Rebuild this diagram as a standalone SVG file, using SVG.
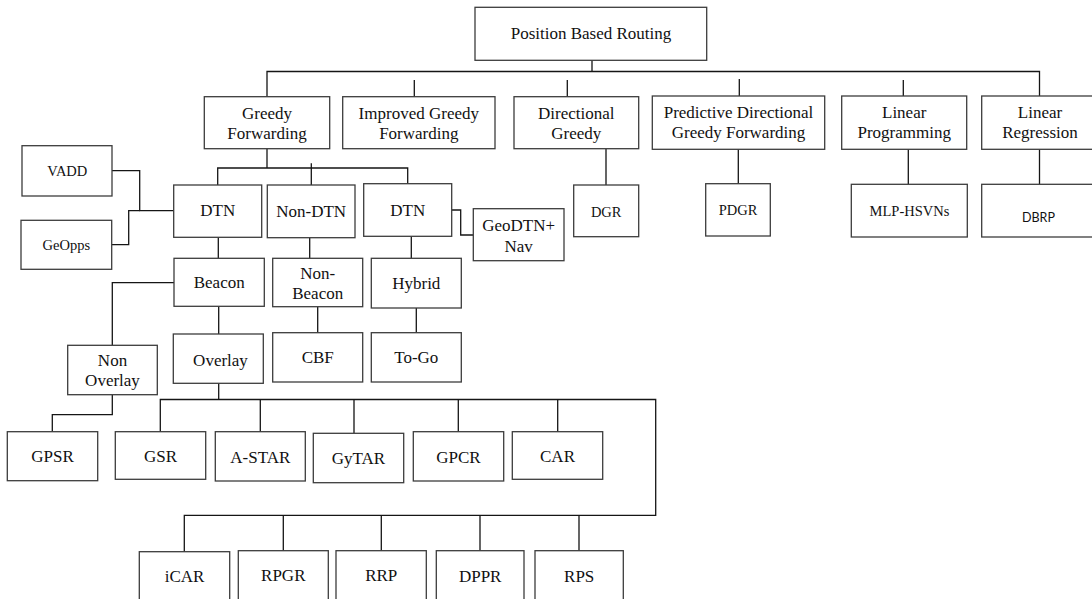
<svg xmlns="http://www.w3.org/2000/svg" width="1092" height="599" viewBox="0 0 1092 599">
  <style>
    .box { fill: #ffffff; stroke: #3c3c3c; stroke-width: 1.3; }
    .wire { fill: none; stroke: #151515; stroke-width: 1.3; }
    .lbl { font-family: "Liberation Serif", "Times New Roman", serif; font-size: 17px; fill: #111111; text-anchor: middle; }
    .sm { font-size: 14.5px; }
    .sans { font-family: Lato, "Liberation Sans", sans-serif; font-size: 12.5px; }
  </style>
  <rect width="1092" height="599" fill="#ffffff"/>

  <!-- connectors -->
  <g id="connectors">
    <!-- root to first level -->
    <path class="wire" d="M592,60.3 V71.5" stroke-width="2"/>
    <path class="wire" d="M267,96.7 V71.5 H1039.5 V96.7"/>
    <path class="wire" d="M414.3,80 V96.7 M567.3,80 V96.7 M739.3,79 V96 M903.3,80 V96.7"/>
    <!-- first level to leaves -->
    <path class="wire" d="M606,148.7 V185 M738.3,149.3 V183.7 M908.3,149.3 V184.3 M1039.5,149.3 V184.3"/>
    <!-- greedy forwarding subtree -->
    <path class="wire" d="M267,148.7 V168"/>
    <path class="wire" d="M217.7,185 V168 H407.7 V183.7"/>
    <path class="wire" d="M311.3,163.3 V185"/>
    <path class="wire" d="M112,170.7 H139.7 V210.7 H173.7"/>
    <path class="wire" d="M111.7,244.7 H128.7 V210.7 H139.7"/>
    <path class="wire" d="M451.7,210 H460.7 V235 H473.3"/>
    <path class="wire" d="M218.3,237.3 V258.3 M309.7,237.7 V258.3 M411.3,236.3 V258.3"/>
    <path class="wire" d="M174,282.7 H112.3 V345.3"/>
    <path class="wire" d="M218.7,306.3 V334 M317.7,306.7 V332.7 M416.3,308 V332.7"/>
    <path class="wire" d="M112.3,394.7 V414.7 H52.3 V431.7"/>
    <!-- overlay subtree -->
    <path class="wire" d="M218.7,383.3 V399.5"/>
    <path class="wire" d="M160.3,431.7 V399.5 H655.7 V515.3 H184.3 V551.7"/>
    <path class="wire" d="M260.3,399.5 V431.7 M354,399.5 V433.3 M458.3,399.5 V431.7 M557.7,399.5 V431.7"/>
    <path class="wire" d="M283.3,515.3 V550.7 M381.3,515.3 V550.7 M480,515.3 V550.7 M579,515.3 V550.7"/>
  </g>

  <!-- root -->
  <g id="n-root">
    <rect class="box" x="475" y="7.3" width="231.7" height="53"/>
    <text class="lbl" x="591" y="39.3">Position Based Routing</text>
  </g>

  <!-- first level -->
  <g id="n-greedy">
    <rect class="box" x="204.3" y="96.7" width="125.4" height="52"/>
    <text class="lbl" x="267" y="119.3">Greedy</text>
    <text class="lbl" x="267" y="139.3">Forwarding</text>
  </g>
  <g id="n-improved">
    <rect class="box" x="342.7" y="96.7" width="152.3" height="52"/>
    <text class="lbl" x="418.8" y="119.3">Improved Greedy</text>
    <text class="lbl" x="418.8" y="139.3">Forwarding</text>
  </g>
  <g id="n-directional">
    <rect class="box" x="514" y="96.7" width="124.7" height="52"/>
    <text class="lbl" x="576.3" y="119.3">Directional</text>
    <text class="lbl" x="576.3" y="139.3">Greedy</text>
  </g>
  <g id="n-predictive">
    <rect class="box" x="652.3" y="96" width="172.4" height="53.3"/>
    <text class="lbl" x="738.5" y="118">Predictive Directional</text>
    <text class="lbl" x="738.5" y="138">Greedy Forwarding</text>
  </g>
  <g id="n-linprog">
    <rect class="box" x="841.7" y="96" width="125" height="53.3"/>
    <text class="lbl" x="904.2" y="118">Linear</text>
    <text class="lbl" x="904.2" y="138">Programming</text>
  </g>
  <g id="n-linreg">
    <rect class="box" x="981.7" y="96" width="117" height="53.3"/>
    <text class="lbl" x="1040" y="118">Linear</text>
    <text class="lbl" x="1040" y="138">Regression</text>
  </g>

  <!-- leaves of the first level -->
  <g id="n-dgr">
    <rect class="box" x="573.7" y="185" width="65" height="51.7"/>
    <text class="lbl sm" x="606.2" y="216.5">DGR</text>
  </g>
  <g id="n-pdgr">
    <rect class="box" x="705.7" y="183.7" width="64.6" height="52.3"/>
    <text class="lbl sm" x="738" y="214.8">PDGR</text>
  </g>
  <g id="n-mlp">
    <rect class="box" x="851.3" y="184.3" width="116" height="52.7"/>
    <text class="lbl sm" x="909.5" y="215.8">MLP-HSVNs</text>
  </g>
  <g id="n-dbrp">
    <rect class="box" x="981.7" y="184.3" width="117" height="52.7"/>
    <text class="lbl sans" x="1038.5" y="221.8">DBRP</text>
  </g>

  <!-- greedy forwarding subtree -->
  <g id="n-vadd">
    <rect class="box" x="22" y="145.7" width="90" height="50.3"/>
    <text class="lbl sm" x="67.3" y="175.5">VADD</text>
  </g>
  <g id="n-geopps">
    <rect class="box" x="21" y="220.3" width="90.7" height="49"/>
    <text class="lbl sm" x="66.3" y="249.5">GeOpps</text>
  </g>
  <g id="n-dtn1">
    <rect class="box" x="173.7" y="185" width="88" height="52.3"/>
    <text class="lbl" x="217.7" y="216.3">DTN</text>
  </g>
  <g id="n-nondtn">
    <rect class="box" x="267.3" y="185" width="87.7" height="52.7"/>
    <text class="lbl" x="311.2" y="216.7">Non-DTN</text>
  </g>
  <g id="n-dtn2">
    <rect class="box" x="363.7" y="183.7" width="88" height="52.6"/>
    <text class="lbl" x="407.7" y="215.7">DTN</text>
  </g>
  <g id="n-geodtn">
    <rect class="box" x="473.3" y="208.7" width="90.7" height="52"/>
    <text class="lbl" x="518.7" y="230.7">GeoDTN+</text>
    <text class="lbl" x="518.7" y="251.7">Nav</text>
  </g>
  <g id="n-beacon">
    <rect class="box" x="174" y="258.3" width="90.3" height="48"/>
    <text class="lbl" x="219.2" y="288.4">Beacon</text>
  </g>
  <g id="n-nonbeacon">
    <rect class="box" x="272.7" y="258.3" width="90" height="48.4"/>
    <text class="lbl" x="317.7" y="279">Non-</text>
    <text class="lbl" x="317.7" y="299">Beacon</text>
  </g>
  <g id="n-hybrid">
    <rect class="box" x="371.3" y="258.3" width="90" height="49.7"/>
    <text class="lbl" x="416.3" y="289">Hybrid</text>
  </g>
  <g id="n-nonoverlay">
    <rect class="box" x="67.7" y="345.3" width="89.6" height="49.4"/>
    <text class="lbl" x="112.5" y="365.7">Non</text>
    <text class="lbl" x="112.5" y="385.7">Overlay</text>
  </g>
  <g id="n-overlay">
    <rect class="box" x="173.3" y="334" width="90" height="49.3"/>
    <text class="lbl" x="220.5" y="366">Overlay</text>
  </g>
  <g id="n-cbf">
    <rect class="box" x="272.7" y="332.7" width="90" height="49.3"/>
    <text class="lbl" x="317.7" y="363">CBF</text>
  </g>
  <g id="n-togo">
    <rect class="box" x="371.3" y="332.7" width="90" height="49.3"/>
    <text class="lbl" x="416.3" y="363">To-Go</text>
  </g>

  <!-- overlay protocols -->
  <g id="n-gpsr">
    <rect class="box" x="7.3" y="431.7" width="90.4" height="49"/>
    <text class="lbl" x="52.5" y="462.4">GPSR</text>
  </g>
  <g id="n-gsr">
    <rect class="box" x="115.3" y="431.7" width="90.4" height="47.6"/>
    <text class="lbl" x="160.5" y="461.5">GSR</text>
  </g>
  <g id="n-astar">
    <rect class="box" x="215.3" y="431.7" width="90" height="49.3"/>
    <text class="lbl" x="260.3" y="463">A-STAR</text>
  </g>
  <g id="n-gytar">
    <rect class="box" x="313.3" y="433.3" width="90.4" height="49.4"/>
    <text class="lbl" x="358.5" y="464">GyTAR</text>
  </g>
  <g id="n-gpcr">
    <rect class="box" x="413.3" y="431.7" width="90.4" height="49.3"/>
    <text class="lbl" x="458.5" y="463.4">GPCR</text>
  </g>
  <g id="n-car">
    <rect class="box" x="512.3" y="431.7" width="90.4" height="47.6"/>
    <text class="lbl" x="557.5" y="462.4">CAR</text>
  </g>
  <g id="n-icar">
    <rect class="box" x="139.3" y="551.7" width="90.4" height="60"/>
    <text class="lbl" x="184.5" y="582.4">iCAR</text>
  </g>
  <g id="n-rpgr">
    <rect class="box" x="238.3" y="550.7" width="90" height="60"/>
    <text class="lbl" x="283.3" y="580.7">RPGR</text>
  </g>
  <g id="n-rrp">
    <rect class="box" x="336" y="550.7" width="90.3" height="60"/>
    <text class="lbl" x="381.2" y="580.7">RRP</text>
  </g>
  <g id="n-dppr">
    <rect class="box" x="436.3" y="550.7" width="87.7" height="60"/>
    <text class="lbl" x="480.2" y="582.4">DPPR</text>
  </g>
  <g id="n-rps">
    <rect class="box" x="535" y="550.7" width="88.3" height="60"/>
    <text class="lbl" x="579.2" y="582.4">RPS</text>
  </g>
</svg>
